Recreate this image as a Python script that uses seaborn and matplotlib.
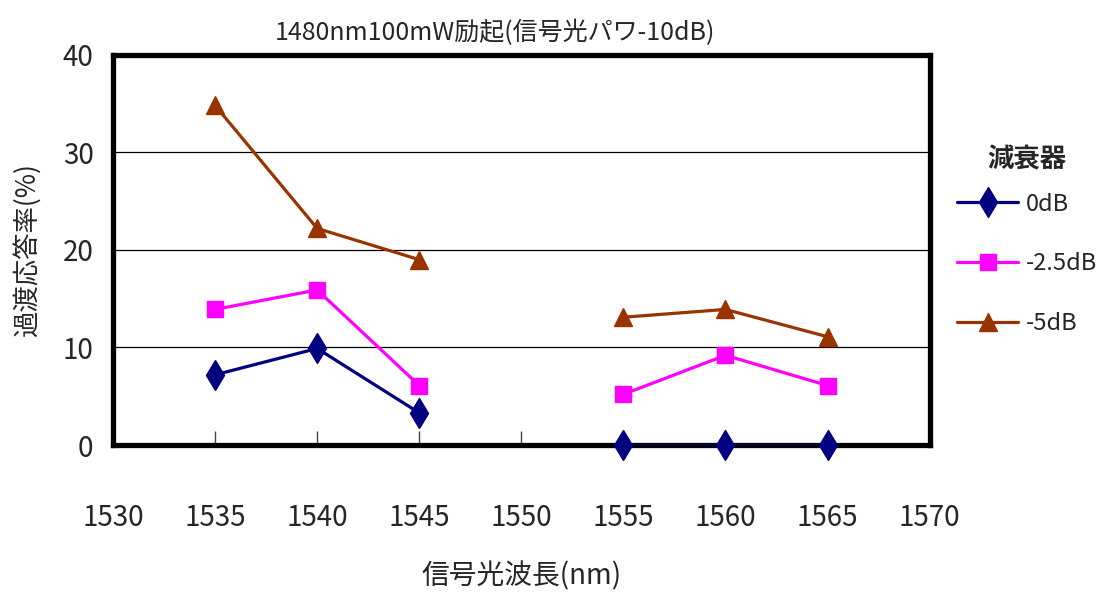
import numpy as np
import pandas as pd
import matplotlib
matplotlib.use("Agg")
import matplotlib.pyplot as plt
import seaborn as sns

# Wavelengths (nm); the 1550 nm slot has no measurement, so each series is split in two runs
wavelengths = [1535, 1540, 1545, 1555, 1560, 1565]
segments = [0, 0, 0, 1, 1, 1]

series_names = ["0dB", "-2.5dB", "-5dB"]
rate_0db = [7.2, 9.9, 3.3, 0.0, 0.0, 0.0]
rate_25db = [13.9, 15.9, 6.1, 5.2, 9.2, 6.1]
rate_5db = [34.8, 22.2, 19.0, 13.1, 13.9, 11.1]

x_ticks = [1530, 1535, 1540, 1545, 1550, 1555, 1560, 1565, 1570]
y_ticks = [0, 10, 20, 30, 40]

title_text = "1480nm100mW励起(信号光パワ-10dB)"
x_label = "信号光波長(nm)"
y_label = "過渡応答率(%)"
legend_title = "減衰器"

colors = {"0dB": "#000080", "-2.5dB": "#FF00FF", "-5dB": "#993300"}
markers = {"0dB": "d", "-2.5dB": "s", "-5dB": "^"}
msizes = {"0dB": 15, "-2.5dB": 11, "-5dB": 13}

rows = []
for name, vals in zip(series_names, [rate_0db, rate_25db, rate_5db]):
    for wl, seg, v in zip(wavelengths, segments, vals):
        rows.append({"wl": wl, "rate": v, "series": name, "seg": seg})
df = pd.DataFrame(rows)

sns.set_theme(style="white")
plt.rcParams["font.family"] = ["Noto Sans CJK JP", "DejaVu Sans"]

fig = plt.figure(figsize=(11.08, 5.95), dpi=100)
ax = fig.add_axes([0.102, 0.252, 0.737, 0.656])

sns.lineplot(data=df, x="wl", y="rate", hue="series", units="seg",
             estimator=None, palette=colors, linewidth=2.3, legend=False,
             ax=ax, zorder=3)

for name in series_names:
    sub = df[df["series"] == name]
    ax.plot(sub["wl"], sub["rate"], linestyle="none", marker=markers[name],
            markersize=msizes[name], color=colors[name], zorder=4, clip_on=False)

ax.set_xlim(1530, 1570)
ax.set_ylim(0, 40)
ax.set_xticks(x_ticks)
ax.set_yticks(y_ticks)
ax.set_xticklabels([str(t) for t in x_ticks])
ax.set_yticklabels([str(t) for t in y_ticks])

for yv in [10, 20, 30]:
    ax.axhline(yv, color="black", linewidth=0.9, zorder=1)

for sp in ax.spines.values():
    sp.set_visible(True)
    sp.set_color("black")
    sp.set_linewidth(3.8)

ax.tick_params(axis="x", direction="in", length=10, width=1, color="#444444",
               labelsize=20, pad=42, bottom=True)
ax.tick_params(axis="y", length=0, labelsize=20, pad=14, left=True)

ax.set_xlabel(x_label, fontsize=20, labelpad=20)
ax.set_ylabel(y_label, fontsize=19, labelpad=16)

fig.text(0.447, 0.944, title_text, ha="center", va="center", fontsize=18)

handles = [plt.Line2D([0], [0], color=colors[n], linewidth=2.3, marker=markers[n],
                      markersize=msizes[n])
           for n in series_names]
leg = ax.legend(handles, series_names, title=legend_title, loc="upper left",
                bbox_to_anchor=(1.022, 0.79), frameon=False, fontsize=17,
                handlelength=2.6, labelspacing=1.55, handletextpad=0.3,
                borderaxespad=0)
leg.get_title().set_fontsize(19)
leg.get_title().set_fontweight("bold")
leg._legend_box.sep = 14

fig.savefig("out.png", dpi=100)
